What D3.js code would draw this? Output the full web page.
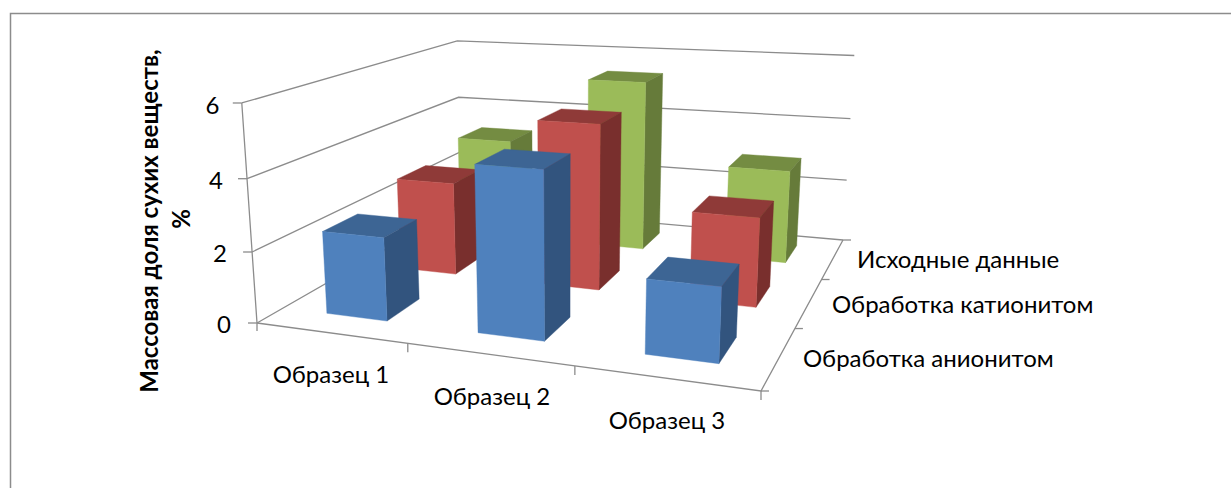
<!DOCTYPE html>
<html lang="ru">
<head>
<meta charset="utf-8">
<title>Массовая доля сухих веществ</title>
<script src="https://cdn.jsdelivr.net/npm/d3@7/dist/d3.min.js"></script>
<style>
  html, body { margin: 0; padding: 0; background: #fff; }
  svg { display: block; }
  text { font-family: Lato, "Noto Sans", "Open Sans", sans-serif; fill: #000; }
</style>
</head>
<body>
<div id="chart"></div>
<script>
// Chart data
const samples = ["Образец 1", "Образец 2", "Образец 3"];
const treatments = ["Обработка анионитом", "Обработка катионитом", "Исходные данные"];
const anionite = [2.34, 4.52, 1.97];
const cationite = [2.8, 4.85, 2.55];
const initial = [3.2, 5.35, 2.87];
const valueTicks = [0, 2, 4, 6];

const seriesValues = [anionite, cationite, initial];
const seriesColors = [
  { front: "#4f81bd", top: "#3d6594", side: "#32547e" },
  { front: "#c0504d", top: "#8f3a38", side: "#792f2d" },
  { front: "#9bbb59", top: "#748c42", side: "#667b3a" }
];

const width = 1231, height = 488;
const gridColor = "#8c8c8c";

const svg = d3.select("#chart").append("svg")
  .attr("width", width).attr("height", height);

// Outer chart frame: only the left and top edges fall inside the page
svg.append("path")
  .attr("d", "M10.5,488V13.5H1231")
  .attr("fill", "none").attr("stroke", "#8c8c8c").attr("stroke-width", 1.5);

// Solve a dense linear system by Gaussian elimination
function solve(A, b) {
  const n = b.length, M = A.map((r, i) => [...r, b[i]]);
  for (let c = 0; c < n; c++) {
    let p = c;
    for (let r = c + 1; r < n; r++) if (Math.abs(M[r][c]) > Math.abs(M[p][c])) p = r;
    [M[c], M[p]] = [M[p], M[c]];
    for (let r = 0; r < n; r++) {
      if (r === c) continue;
      const f = M[r][c] / M[c][c];
      for (let k = c; k <= n; k++) M[r][k] -= f * M[c][k];
    }
  }
  return M.map((r, i) => r[n] / r[i]);
}

// Camera: floor corners and wall-top corners on screen, as [x, y]
const floorFL = [257, 323], floorFR = [761, 391], floorBR = [843, 240], floorBL = [461, 206];
const topFL = [244, 104], topBL = [455, 38], topBR = [855, 58];

// Normalised scene scales: u along samples, v into depth, h up the value axis
const uScale = d3.scaleLinear().domain([0, samples.length]).range([0, 1]);
const vScale = d3.scaleLinear().domain([0, treatments.length]).range([0, 1]);
const hScale = d3.scaleLinear().domain([0, 6]).range([0, 1]);

// Floor homography from the four corners
const floorPairs = [[0, 0, floorFL], [1, 0, floorFR], [1, 1, floorBR], [0, 1, floorBL]];
const homA = [], homB = [];
floorPairs.forEach(([u, v, [x, y]]) => {
  homA.push([u, v, 1, 0, 0, 0, -u * x, -v * x]); homB.push(x);
  homA.push([0, 0, 0, u, v, 1, -u * y, -v * y]); homB.push(y);
});
const H = solve(homA, homB);

// Vertical column of the camera matrix, least squares over the wall-top corners
const topPairs = [[0, 0, topFL], [0, 1, topBL], [1, 1, topBR]];
const rows = [], rhs = [];
topPairs.forEach(([u, v, [x, y]]) => {
  const X = H[0] * u + H[1] * v + H[2], Y = H[3] * u + H[4] * v + H[5], W = H[6] * u + H[7] * v + 1;
  rows.push([1, 0, -x]); rhs.push(x * W - X);
  rows.push([0, 1, -y]); rhs.push(y * W - Y);
});
const ata = [0, 1, 2].map(i => [0, 1, 2].map(j => d3.sum(rows, r => r[i] * r[j])));
const atb = [0, 1, 2].map(i => d3.sum(rows, (r, k) => r[i] * rhs[k]));
const [hx, hy, hw] = solve(ata, atb);

// Project a scene point (sample position, treatment position, value) to the screen
function project(s, t, value) {
  const u = uScale(s), v = vScale(t), h = hScale(value);
  const w = H[6] * u + H[7] * v + 1 + hw * h;
  return [(H[0] * u + H[1] * v + H[2] + hx * h) / w, (H[3] * u + H[4] * v + H[5] + hy * h) / w];
}

const line = d3.line();
const frame = svg.append("g").attr("fill", "none").attr("stroke", gridColor).attr("stroke-width", 1.3);
const nS = samples.length, nT = treatments.length;

// Walls: one polyline per value level, left wall then back wall
valueTicks.forEach(tick => {
  frame.append("path").attr("d", line([project(0, 0, tick), project(0, nT, tick), project(nS, nT, tick)]));
  const p = project(0, 0, tick);
  frame.append("path").attr("d", line([[p[0] - 9, p[1]], p]));
});

// Value axis and floor edges
const base = project(0, 0, 0);
frame.append("path").attr("d", line([project(0, 0, 6), base, [base[0], base[1] + 8]]));
frame.append("path").attr("d", line([base, project(nS, 0, 0), project(nS, nT, 0)]));

// Category ticks along the front edge and the depth edge
d3.range(1, nS + 1).forEach(i => {
  const p = project(i, 0, 0);
  frame.append("path").attr("d", line([p, [p[0], p[1] + 9]]));
});
d3.range(0, nT + 1).forEach(j => {
  const p = project(nS, j, 0);
  frame.append("path").attr("d", line([p, [p[0] + 8, p[1]]]));
});

// Bars, painted back to front
const gapLeft = 0.305, gapRight = 0.285, gapFront = 0.3, gapBack = 0.26;
const bars = [];
treatments.forEach((_, j) => samples.forEach((_, i) => bars.push({ i, j, value: seriesValues[j][i], colors: seriesColors[j] })));
bars.sort((a, b) => d3.descending(a.j, b.j) || d3.ascending(a.i, b.i));

const barLayer = svg.append("g");
bars.forEach(b => {
  const s0 = b.i + gapLeft, s1 = b.i + 1 - gapRight, t0 = b.j + gapFront, t1 = b.j + 1 - gapBack;
  const g = barLayer.append("g");
  const face = (pts, fill) => g.append("path")
    .attr("d", line(pts) + "Z").attr("fill", fill).attr("stroke", fill).attr("stroke-width", 0.4);
  face([project(s0, t0, b.value), project(s0, t1, b.value), project(s1, t1, b.value), project(s1, t0, b.value)], b.colors.top);
  face([project(s1, t0, 0), project(s1, t1, 0), project(s1, t1, b.value), project(s1, t0, b.value)], b.colors.side);
  face([project(s0, t0, 0), project(s1, t0, 0), project(s1, t0, b.value), project(s0, t0, b.value)], b.colors.front);
});

// Tick labels
const valueLabelX = { 0: 224, 2: 220, 4: 216, 6: 212.5 };
const valueLabelY = { 0: 333, 2: 262, 4: 189, 6: 114 };
valueTicks.forEach(tick => {
  svg.append("text").attr("x", valueLabelX[tick]).attr("y", valueLabelY[tick])
    .attr("text-anchor", "middle").attr("font-size", 24).text(tick);
});
const sampleLabelPos = [[331, 383], [492, 405], [667, 429]];
samples.forEach((name, i) => {
  svg.append("text").attr("x", sampleLabelPos[i][0]).attr("y", sampleLabelPos[i][1])
    .attr("text-anchor", "middle").attr("font-size", 24).text(name);
});
const treatmentLabelPos = [[803, 367], [832, 313], [857, 268]];
treatments.forEach((name, j) => {
  svg.append("text").attr("x", treatmentLabelPos[j][0]).attr("y", treatmentLabelPos[j][1])
    .attr("font-size", 24).text(name);
});

// Axis title, two rotated lines
const title = svg.append("g").attr("font-weight", 700).attr("font-size", 24).attr("text-anchor", "middle");
title.append("text").attr("transform", "translate(158,221) rotate(-90)").text("Массовая доля сухих веществ,");
title.append("text").attr("transform", "translate(190,219) rotate(-90)").text("%");
</script>
</body>
</html>
